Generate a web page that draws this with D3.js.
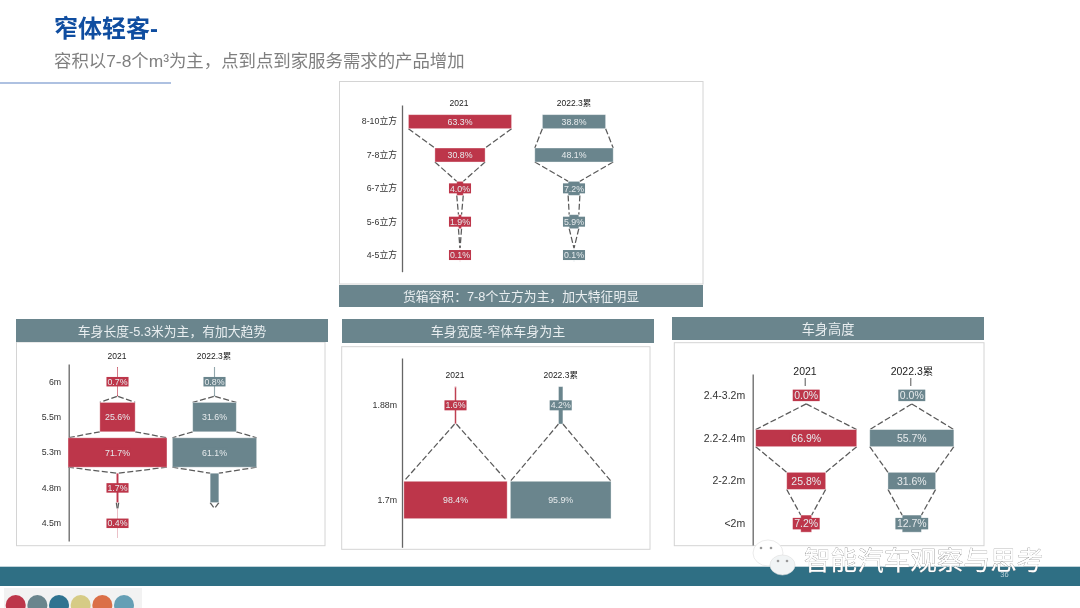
<!DOCTYPE html>
<html><head><meta charset="utf-8">
<script src="https://cdn.jsdelivr.net/npm/d3@7/dist/d3.min.js"></script>
<style>
html,body{margin:0;padding:0;background:#fff}
svg{display:block;filter:blur(.45px)}
text{font-family:"Liberation Sans","Noto Sans CJK SC",sans-serif}
</style></head><body>
<svg id="c" width="1080" height="608"></svg>
<script>
const seriesNames = ["2021", "2022.3累"];

const volumeCats = ["8-10立方","7-8立方","6-7立方","5-6立方","4-5立方"];
const volume2021 = [63.3,30.8,4.0,1.9,0.1];
const volume2022 = [38.8,48.1,7.2,5.9,0.1];

const lengthCats = ["6m","5.5m","5.3m","4.8m","4.5m"];
const length2021 = [0.7,25.6,71.7,1.7,0.4];
const length2022 = [0.8,31.6,61.1,6.3,0];
const length2022Shown = [true,true,true,false,false];

const widthCats = ["1.88m","1.7m"];
const width2021 = [1.6,98.4];
const width2022 = [4.2,95.9];

const heightCats = ["2.4-3.2m","2.2-2.4m","2-2.2m","<2m"];
const height2021 = [0.0,66.9,25.8,7.2];
const height2022 = [0.0,55.7,31.6,12.7];

const panelTitles = ["货箱容积：7-8个立方为主，加大特征明显","车身长度-5.3米为主，有加大趋势","车身宽度-窄体车身为主","车身高度"];
const swatches = ["#bd364a","#6a858d","#2f7390","#d6cb85","#db6f47","#659fb5"];

const RED="#bd364a", SLATE="#6a858d";
const svg=d3.select("#c");

const panels=[
 {cats:volumeCats,a:volume2021,b:volume2022,title:panelTitles[0],
  frame:[339.5,81.5,703,284],head:[339,285,703,307],hy:296,hf:12.8,
  axisX:402,yr:[105,271.7],barRatio:.42,k:1.63,cx:[460,574],pad:5,fs:8.8,lf:8.5,headY:103,headX:[459,574],boxH:10,boxPad:1},
 {cats:lengthCats,a:length2021,b:length2022,bShown:length2022Shown,title:panelTitles[1],
  frame:[16.5,342,325,545.7],head:[16,319,328,342],hy:331,hf:12.8,
  axisX:68.7,yr:[364,541],barRatio:.83,k:1.38,cx:[117.5,214.5],pad:7.5,fs:8.8,lf:8.5,headY:355.7,headX:[117,214],boxH:9.5,boxPad:1},
 {cats:widthCats,a:width2021,b:width2022,title:panelTitles[2],
  frame:[341.7,346.7,650,549.3],head:[342,319,654,343],hy:331.5,hf:13,
  axisX:402,yr:[358,547.3],barRatio:.395,k:1.05,cx:[455.5,560.7],pad:5,fs:8.8,lf:8.5,headY:375,headX:[455,560.7],boxH:10,boxPad:1},
 {cats:heightCats,a:height2021,b:height2022,title:panelTitles[3],
  frame:[674.3,342.7,984,545.7],head:[672,317,984,340],hy:329,hf:13.2,
  axisX:752.7,yr:[374,545],barRatio:.40,k:1.51,cx:[806.2,911.8],pad:7.5,fs:10.5,lf:10.5,headY:371.7,headX:[805,912],boxH:11.5,boxPad:1.5,leader:[378,386]}
];

// page title
svg.append("text").attr("x",54).attr("y",37).attr("font-size",24).attr("font-weight",700).attr("fill","#0f4da0").text("窄体轻客-");
svg.append("text").attr("x",54).attr("y",67).attr("font-size",17.4).attr("fill","#7f7f7f").text("容积以7-8个m³为主，点到点到家服务需求的产品增加");
svg.append("line").attr("x1",0).attr("x2",171).attr("y1",83).attr("y2",83).attr("stroke","#5f83c4").attr("stroke-width",1.2);

panels.forEach(p=>{
  const g=svg.append("g");
  const [fx0,fy0,fx1,fy1]=p.frame;
  g.append("rect").attr("x",fx0).attr("y",fy0).attr("width",fx1-fx0).attr("height",fy1-fy0)
    .attr("fill","#fff").attr("stroke","#d4d4d4").attr("stroke-width",1);
  const [hx0,hy0,hx1,hy1]=p.head;
  g.append("rect").attr("x",hx0).attr("y",hy0).attr("width",hx1-hx0).attr("height",hy1-hy0).attr("fill",SLATE);
  g.append("text").attr("x",(hx0+hx1)/2).attr("y",p.hy).attr("dy",".36em").attr("text-anchor","middle")
    .attr("font-size",p.hf).attr("fill","#e9eef0").text(p.title);

  const y=d3.scaleBand().domain(p.cats).range(p.yr).padding(0);
  const x=d3.scaleLinear().domain([0,100]).range([0,100*p.k]);
  const h=y.bandwidth()*p.barRatio;
  const mid=c=>y(c)+y.bandwidth()/2;

  const ax=g.append("g").attr("transform",`translate(${p.axisX},0)`)
    .call(d3.axisLeft(y).tickSize(0).tickSizeOuter(0).tickPadding(p.pad));
  ax.select(".domain").attr("stroke","#666").attr("stroke-width",1.3);
  ax.selectAll("text").attr("font-size",p.fs).attr("fill","#333")
    .style("font-family",'"Liberation Sans","Noto Sans CJK SC",sans-serif');

  [[p.a,RED,null],[p.b,SLATE,p.bShown]].forEach(([vals,col,shown],s)=>{
    const cx=p.cx[s];
    const sg=g.append("g");
    sg.append("text").attr("x",p.headX[s]).attr("y",p.headY).attr("dy",".36em").attr("text-anchor","middle")
      .attr("font-size",p.lf).attr("fill","#222").text(seriesNames[s]);
    if(p.leader) sg.append("line").attr("x1",cx-1).attr("x2",cx-1).attr("y1",p.leader[0]).attr("y2",p.leader[1]).attr("stroke","#555").attr("stroke-width",1);

    const rows=p.cats.map((c,i)=>({c,v:vals[i],show:shown?shown[i]:true}));
    // dashed connectors between neighbouring bars
    d3.pairs(rows).forEach(([u,v])=>{
      [-1,1].forEach(dir=>{
        sg.append("line")
          .attr("x1",cx+dir*x(u.v)/2).attr("y1",mid(u.c)+h/2)
          .attr("x2",cx+dir*x(v.v)/2).attr("y2",mid(v.c)-h/2)
          .attr("stroke","#5a5a5a").attr("stroke-width",1.25).attr("stroke-dasharray","6,2.5");
      });
    });
    // bars
    sg.selectAll("rect.bar").data(rows.filter(r=>r.v>0)).join("rect").attr("class","bar")
      .attr("x",r=>cx-x(r.v)/2).attr("width",r=>x(r.v))
      .attr("y",r=>mid(r.c)-h/2).attr("height",h)
      .attr("fill",col).attr("stroke","#fff").attr("stroke-opacity",.45).attr("stroke-width",.8);
    // labels
    rows.filter(r=>r.show).forEach(r=>{
      const t=sg.append("text").attr("x",cx).attr("y",mid(r.c)).attr("dy",".36em").attr("text-anchor","middle")
        .attr("font-size",p.fs).attr("fill","#e6eaec").text(r.v.toFixed(1)+"%");
      const tw=t.node().getComputedTextLength();
      sg.insert("rect",()=>t.node()).attr("x",cx-tw/2-p.boxPad).attr("width",tw+2*p.boxPad)
        .attr("y",mid(r.c)-p.boxH/2).attr("height",p.boxH).attr("fill",col);
    });
  });
});

// footer
svg.append("rect").attr("x",0).attr("y",566.7).attr("width",1080).attr("height",19.3).attr("fill","#2f6f84");
svg.append("rect").attr("x",4).attr("y",588).attr("width",138).attr("height",20).attr("fill","#f2f2f2");
const sx=d3.scalePoint().domain(swatches).range([15.7,124]);
svg.selectAll("circle.sw").data(swatches).join("circle").attr("class","sw")
  .attr("cx",d=>sx(d)).attr("cy",605).attr("r",10).attr("fill",d=>d);
svg.append("text").attr("x",1004.5).attr("y",577).attr("text-anchor","middle").attr("font-size",7.5).attr("fill","#b9cfd7").text("36");

// watermark
const wm=svg.append("g");
wm.append("ellipse").attr("cx",768).attr("cy",553).attr("rx",15).attr("ry",13).attr("fill","#fff").attr("stroke","#ddd").attr("stroke-width",.6);
wm.append("ellipse").attr("cx",782.5).attr("cy",565).attr("rx",12.5).attr("ry",10).attr("fill","#f1f4f5").attr("stroke","#ddd").attr("stroke-width",.6);
wm.selectAll("circle.e").data([[761,548],[771,548],[778,561],[787,561]]).join("circle").attr("class","e")
  .attr("cx",d=>d[0]).attr("cy",d=>d[1]).attr("r",1.3).attr("fill","#999");
wm.append("text").attr("x",804).attr("y",560).attr("dy",".36em").attr("font-size",26.6)
  .attr("fill","#fff").attr("stroke","#777").attr("stroke-width",.5).attr("paint-order","stroke").text("智能汽车观察与思考");
</script></body></html>
